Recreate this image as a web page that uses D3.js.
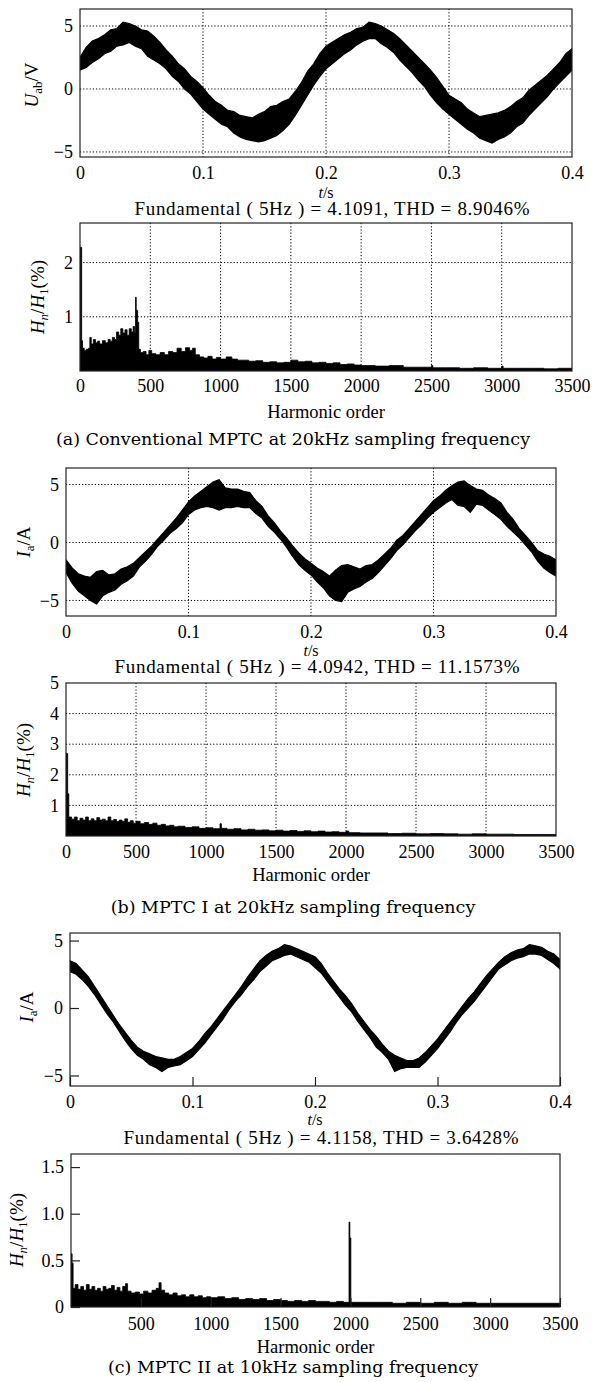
<!DOCTYPE html>
<html>
<head>
<meta charset="utf-8">
<script src="https://cdn.jsdelivr.net/npm/d3@7"></script>
<style>
body { margin: 0; background: #fff; }
svg text { font-family: "Liberation Serif", "Times New Roman", serif; fill: #000; }
.axis line { stroke: #222; stroke-width: 1.2; }
.grid line { stroke: #000; stroke-width: 1; stroke-dasharray: 1.2, 2; }
.frame { fill: none; stroke: #222; stroke-width: 1.2; }
.cap { font-family: "DejaVu Serif", serif; font-size: 17.5px; }
</style>
</head>
<body>
<svg id="fig" width="592" height="1382"></svg>
<script>

// ---- data ----
var waveT = [0, 0.005, 0.01, 0.015, 0.02, 0.025, 0.03, 0.035, 0.04, 0.045,
    0.05, 0.055, 0.06, 0.065, 0.07, 0.075, 0.08, 0.085, 0.09, 0.095,
    0.10, 0.105, 0.11, 0.115, 0.12, 0.125, 0.13, 0.135, 0.14, 0.145,
    0.15, 0.155, 0.16, 0.165, 0.17, 0.175, 0.18, 0.185, 0.19, 0.195,
    0.20, 0.205, 0.21, 0.215, 0.22, 0.225, 0.23, 0.235, 0.24, 0.245,
    0.25, 0.255, 0.26, 0.265, 0.27, 0.275, 0.28, 0.285, 0.29, 0.295,
    0.30, 0.305, 0.31, 0.315, 0.32, 0.325, 0.33, 0.335, 0.34, 0.345,
    0.35, 0.355, 0.36, 0.365, 0.37, 0.375, 0.38, 0.385, 0.39, 0.395, 0.40];

// (a) U_ab band, upper / lower edge
var uabHi = [2.5, 3.3, 3.8, 4.0, 4.3, 4.7, 4.8, 5.3, 5.2, 5.0,
    4.7, 4.6, 4.2, 3.7, 3.1, 2.6, 2.0, 1.6, 1.0, 0.6,
    0.1, -0.5, -1.0, -1.3, -1.7, -1.8, -2.1, -2.2, -2.3, -2.0,
    -1.8, -1.4, -1.3, -1.0, -0.8, -0.2, 0.5, 1.4, 2.0, 2.8,
    3.4, 3.7, 4.0, 4.3, 4.5, 4.8, 4.9, 5.3, 5.2, 5.0,
    4.7, 4.4, 4.0, 3.5, 3.0, 2.5, 2.0, 1.5, 0.9, 0.2,
    -0.5, -0.8, -1.1, -1.6, -1.9, -2.2, -2.1, -2.0, -1.9, -1.7,
    -1.4, -1.0, -0.7, -0.1, 0.3, 0.7, 1.1, 1.6, 2.1, 2.8, 3.2];
var uabLo = [1.5, 1.7, 2.1, 2.4, 2.8, 3.0, 3.4, 3.5, 3.7, 3.4,
    3.2, 2.6, 2.3, 2.0, 1.6, 1.0, 0.6, 0.0, -0.4, -1.0,
    -1.6, -2.0, -2.4, -2.8, -3.0, -3.5, -3.8, -4.0, -4.1, -4.2,
    -4.1, -3.9, -3.7, -3.3, -2.8, -2.1, -1.3, -0.5, 0.3, 1.0,
    1.6, 2.0, 2.4, 2.8, 3.1, 3.5, 3.8, 4.0, 4.0, 3.6,
    3.3, 2.9, 2.3, 1.8, 1.3, 0.7, 0.2, -0.5, -1.1, -1.6,
    -2.0, -2.4, -2.8, -3.2, -3.5, -3.9, -4.1, -4.3, -4.0, -3.8,
    -3.5, -3.0, -2.7, -2.1, -1.6, -1.1, -0.6, 0.0, 0.5, 1.0, 1.5];

// (b) I_a band
var iaBHi = [-1.5, -2.2, -2.7, -2.9, -3.0, -2.5, -2.4, -2.8, -2.7, -2.3,
    -2.1, -1.8, -1.3, -0.8, -0.3, 0.3, 0.9, 1.5, 2.1, 2.8,
    3.5, 4.0, 4.4, 4.8, 5.2, 5.4, 4.7, 4.6, 4.6, 4.4,
    4.3, 3.6, 3.1, 2.3, 1.7, 1.0, 0.4, -0.3, -0.9, -1.4,
    -1.8, -2.2, -2.5, -2.9, -2.4, -2.0, -1.9, -2.1, -2.3, -2.0,
    -1.9, -1.5, -1.0, -0.5, 0.2, 0.6, 1.2, 1.8, 2.4, 3.0,
    3.6, 4.0, 4.5, 4.9, 5.2, 5.3, 4.9, 4.6, 4.5, 4.1,
    3.8, 3.4, 2.6, 2.0, 1.2, 0.6, 0.0, -0.7, -1.0, -1.2, -1.5];
var iaBLo = [-2.6, -3.5, -4.2, -4.6, -5.0, -5.3, -4.6, -4.3, -4.1, -3.6,
    -3.3, -2.9, -2.1, -1.6, -1.0, -0.3, 0.2, 0.8, 1.2, 1.7,
    2.4, 2.8, 3.0, 3.1, 3.0, 2.8, 3.0, 3.0, 3.1, 3.0,
    3.0, 2.5, 2.1, 1.4, 0.9, 0.3, -0.4, -1.2, -1.9, -2.4,
    -2.8, -3.4, -3.9, -4.6, -5.0, -5.1, -4.3, -4.0, -3.8, -3.4,
    -3.1, -2.6, -2.0, -1.4, -0.7, -0.2, 0.4, 1.0, 1.5, 2.1,
    2.6, 3.0, 3.4, 3.7, 3.2, 3.1, 2.6, 3.3, 3.2, 2.8,
    2.4, 2.0, 1.4, 0.9, 0.4, -0.2, -0.8, -1.6, -2.2, -2.6, -2.9];

// (c) I_a band
var iaCHi = [3.5, 3.3, 2.8, 2.3, 1.6, 0.9, 0.2, -0.5, -1.2, -1.8,
    -2.4, -2.9, -3.2, -3.4, -3.6, -3.7, -3.8, -3.8, -3.6, -3.3,
    -3.0, -2.5, -1.9, -1.4, -0.8, -0.2, 0.4, 1.0, 1.6, 2.3,
    2.9, 3.5, 3.9, 4.2, 4.4, 4.7, 4.6, 4.4, 4.2, 4.0,
    3.8, 3.3, 2.6, 2.0, 1.4, 0.9, 0.3, -0.4, -1.0, -1.6,
    -2.1, -2.7, -3.2, -3.5, -3.7, -3.9, -3.9, -3.7, -3.3, -2.8,
    -2.3, -1.7, -1.1, -0.5, 0.1, 0.7, 1.2, 1.8, 2.4, 2.9,
    3.4, 3.8, 4.1, 4.3, 4.4, 4.7, 4.6, 4.5, 4.2, 4.0, 3.6];
var iaCLo = [2.7, 2.5, 2.1, 1.6, 1.0, 0.3, -0.4, -1.0, -1.7, -2.4,
    -3.0, -3.5, -3.8, -4.2, -4.4, -4.7, -4.4, -4.3, -4.2, -3.9,
    -3.6, -3.1, -2.6, -2.0, -1.4, -0.8, -0.1, 0.5, 1.0, 1.6,
    2.1, 2.7, 3.1, 3.5, 3.7, 3.9, 4.0, 3.8, 3.6, 3.4,
    3.0, 2.6, 2.0, 1.4, 0.8, 0.2, -0.3, -1.0, -1.6, -2.2,
    -2.9, -3.3, -3.8, -4.7, -4.5, -4.4, -4.4, -4.4, -4.0, -3.5,
    -3.0, -2.4, -1.8, -1.1, -0.5, 0.0, 0.5, 1.1, 1.7, 2.3,
    2.9, 3.2, 3.5, 3.7, 3.8, 4.0, 4.0, 3.9, 3.6, 3.3, 2.9];

// spectra: [harmonic order, Hn/H1 %]
var specA = [[0, 2.28], [12, 0.56], [18, 0.42], [30, 0.38], [45, 0.4], [60, 0.42], [70, 0.62], [80, 0.5],
    [95, 0.58], [110, 0.52], [125, 0.55], [140, 0.5], [160, 0.56], [180, 0.52], [200, 0.58], [215, 0.55],
    [230, 0.62], [245, 0.58], [260, 0.72], [275, 0.66], [290, 0.78], [305, 0.7], [320, 0.76], [335, 0.66],
    [350, 0.78], [365, 0.72], [378, 0.82], [388, 0.7], [395, 1.36], [400, 1.12], [410, 0.9], [418, 0.4],
    [430, 0.34], [450, 0.36], [470, 0.3], [490, 0.38], [510, 0.32], [540, 0.3], [570, 0.34], [600, 0.3],
    [630, 0.36], [660, 0.34], [690, 0.42], [720, 0.36], [750, 0.43], [780, 0.38], [800, 0.42], [820, 0.3],
    [850, 0.26], [880, 0.24], [910, 0.27], [940, 0.22], [970, 0.25], [1000, 0.22], [1040, 0.26], [1080, 0.22],
    [1120, 0.2], [1160, 0.2], [1200, 0.18], [1250, 0.19], [1300, 0.16], [1350, 0.17], [1400, 0.15], [1450, 0.16],
    [1500, 0.2], [1550, 0.17], [1600, 0.18], [1650, 0.15], [1700, 0.16], [1750, 0.14], [1800, 0.15], [1850, 0.12],
    [1900, 0.13], [1950, 0.11], [2000, 0.1], [2100, 0.09], [2200, 0.1], [2300, 0.07], [2400, 0.07], [2500, 0.1],
    [2510, 0.06], [2600, 0.06], [2700, 0.05], [2800, 0.06], [2900, 0.05], [3000, 0.09], [3010, 0.05], [3100, 0.05],
    [3200, 0.05], [3300, 0.04], [3400, 0.05], [3500, 0.04]];

var specB = [[0, 2.7], [12, 1.38], [20, 0.62], [40, 0.55], [60, 0.62], [80, 0.5], [100, 0.58], [120, 0.52],
    [140, 0.62], [160, 0.5], [180, 0.56], [200, 0.5], [220, 0.6], [240, 0.52], [260, 0.55], [280, 0.5],
    [300, 0.62], [320, 0.5], [340, 0.54], [360, 0.47], [380, 0.52], [400, 0.48], [420, 0.56], [440, 0.45],
    [460, 0.5], [480, 0.42], [500, 0.48], [530, 0.4], [560, 0.44], [590, 0.38], [620, 0.42], [650, 0.35],
    [680, 0.38], [710, 0.33], [740, 0.35], [770, 0.3], [800, 0.32], [850, 0.28], [900, 0.3], [950, 0.25],
    [1000, 0.27], [1050, 0.24], [1100, 0.4], [1110, 0.25], [1150, 0.22], [1200, 0.24], [1250, 0.2], [1300, 0.22],
    [1350, 0.19], [1400, 0.2], [1450, 0.17], [1500, 0.19], [1550, 0.16], [1600, 0.18], [1650, 0.15], [1700, 0.17],
    [1750, 0.14], [1800, 0.16], [1850, 0.13], [1900, 0.14], [1950, 0.12], [2000, 0.16], [2020, 0.11], [2100, 0.1],
    [2200, 0.1], [2300, 0.08], [2400, 0.09], [2500, 0.07], [2600, 0.08], [2700, 0.07], [2800, 0.06], [2900, 0.07],
    [3000, 0.06], [3100, 0.06], [3200, 0.05], [3300, 0.05], [3400, 0.05], [3500, 0.04]];

var specC = [[0, 0.57], [8, 0.47], [15, 0.2], [30, 0.24], [50, 0.19], [70, 0.22], [90, 0.18], [110, 0.24],
    [130, 0.19], [150, 0.22], [170, 0.18], [190, 0.2], [210, 0.17], [230, 0.22], [250, 0.19], [270, 0.2],
    [290, 0.23], [310, 0.18], [330, 0.21], [350, 0.17], [370, 0.22], [390, 0.25], [405, 0.17], [430, 0.15],
    [460, 0.16], [490, 0.14], [520, 0.17], [550, 0.15], [580, 0.18], [610, 0.2], [630, 0.26], [645, 0.18],
    [670, 0.15], [700, 0.13], [730, 0.15], [760, 0.12], [790, 0.13], [820, 0.11], [850, 0.13], [880, 0.11],
    [910, 0.12], [940, 0.1], [970, 0.11], [1000, 0.1], [1050, 0.11], [1100, 0.09], [1150, 0.1], [1200, 0.08],
    [1250, 0.09], [1300, 0.08], [1350, 0.09], [1400, 0.07], [1450, 0.08], [1500, 0.07], [1550, 0.06], [1600, 0.07],
    [1650, 0.06], [1700, 0.07], [1750, 0.06], [1800, 0.06], [1850, 0.05], [1900, 0.06], [1950, 0.05], [1990, 0.91],
    [1996, 0.74], [2003, 0.05], [2100, 0.05], [2200, 0.05], [2300, 0.04], [2400, 0.05], [2500, 0.04], [2600, 0.05],
    [2700, 0.04], [2800, 0.05], [2900, 0.04], [3000, 0.04], [3100, 0.04], [3200, 0.04], [3300, 0.04], [3400, 0.04],
    [3500, 0.04]];

// ticks and texts
var timeTicks = [0, 0.1, 0.2, 0.3, 0.4];
var timeGrid = [0.1, 0.2, 0.3];
var harmTicks = [0, 500, 1000, 1500, 2000, 2500, 3000, 3500];
var harmTicksC = [500, 1000, 1500, 2000, 2500, 3000, 3500];
var harmGrid = [500, 1000, 1500, 2000, 2500, 3000];
var waveYTicks = [-5, 0, 5];
var specAYTicks = [1, 2];
var specBYTicks = [1, 2, 3, 4, 5];
var specCYTicks = [0, 0.5, 1.0, 1.5];

var fundTexts = [
    "Fundamental ( 5Hz ) = 4.1091, THD = 8.9046%",
    "Fundamental ( 5Hz ) = 4.0942, THD = 11.1573%",
    "Fundamental ( 5Hz ) = 4.1158, THD = 3.6428%"];
var captions = [
    "(a) Conventional MPTC at 20kHz sampling frequency",
    "(b) MPTC I at 20kHz sampling frequency",
    "(c) MPTC II at 10kHz sampling frequency"];

var svg = d3.select("#fig");
var FS = 18;
var SERIF = "Liberation Serif, Times New Roman, serif";
var clipId = 0;

function zipWave(hi, lo) {
    return waveT.map(function(t, i) { return {t: t, hi: hi[i], lo: lo[i]}; });
}

// rotated y label built from pieces: {s, i (italic), sub}
function yLabel(x, y, parts) {
    var t = svg.append("text")
        .attr("transform", "translate(" + x + "," + y + ") rotate(-90)")
        .attr("text-anchor", "middle")
        .attr("font-size", 19);
    var shift = 0;
    parts.forEach(function(p) {
        var ts = t.append("tspan").text(p.s);
        if (p.i) ts.attr("font-style", "italic");
        var want = p.sub ? 4 : 0;
        if (want !== shift) { ts.attr("dy", want - shift); shift = want; }
        if (p.sub) ts.attr("font-size", 13);
    });
}

function panel(o) {
    var x = d3.scaleLinear().domain(o.xDom).range([o.l, o.r]);
    var y = d3.scaleLinear().domain(o.yDom).range([o.b, o.t]);
    var g = svg.append("g");

    var id = "clip" + (clipId++);
    svg.append("clipPath").attr("id", id).append("rect")
        .attr("x", o.l).attr("y", o.t).attr("width", o.r - o.l).attr("height", o.b - o.t);

    if (o.gridX) {
        var gg = g.append("g").attr("class", "grid");
        gg.selectAll(".gx").data(o.gridX).enter().append("line")
            .attr("x1", d => x(d)).attr("x2", d => x(d))
            .attr("y1", o.t).attr("y2", o.b);
        gg.selectAll(".gy").data(o.gridY).enter().append("line")
            .attr("y1", d => y(d)).attr("y2", d => y(d))
            .attr("x1", o.l).attr("x2", o.r);
    }

    var plot = g.append("g").attr("clip-path", "url(#" + id + ")");

    if (o.wave) {
        var area = d3.area()
            .x(d => x(d.t))
            .y0(d => y(d.lo))
            .y1(d => y(d.hi))
            .curve(d3.curveLinear);
        plot.append("path")
            .attr("d", area(o.wave))
            .attr("fill", "#000")
            .attr("stroke", "#000")
            .attr("stroke-width", 1.2)
            .attr("stroke-linejoin", "miter");
    }
    if (o.spec) {
        var sArea = d3.area()
            .x(d => x(d[0]))
            .y0(y(0))
            .y1(d => y(d[1]))
            .curve(d3.curveStepAfter);
        plot.append("path")
            .attr("d", sArea(o.spec))
            .attr("fill", "#000")
            .attr("stroke", "#000")
            .attr("stroke-width", 0.8);
    }

    var tick = o.inward ? -9 : 0;
    var xAxis = d3.axisBottom(x)
        .tickValues(o.xTicks)
        .tickSizeInner(tick)
        .tickSizeOuter(0)
        .tickPadding(o.xLabBase - o.b - 0.71 * FS)
        .tickFormat(o.xFmt);
    var gx = g.append("g").attr("class", "axis")
        .attr("transform", "translate(0," + o.b + ")")
        .call(xAxis)
        .attr("font-family", SERIF)
        .attr("font-size", FS);
    gx.select(".domain").remove();

    var yAxis = d3.axisLeft(y)
        .tickValues(o.yTicks)
        .tickSizeInner(tick)
        .tickSizeOuter(0)
        .tickPadding(7)
        .tickFormat(o.yFmt);
    var gy = g.append("g").attr("class", "axis")
        .attr("transform", "translate(" + o.l + ",0)")
        .call(yAxis)
        .attr("font-family", SERIF)
        .attr("font-size", FS);
    gy.select(".domain").remove();

    g.append("rect").attr("class", "frame")
        .attr("x", o.l).attr("y", o.t)
        .attr("width", o.r - o.l).attr("height", o.b - o.t);

    var cx = (o.l + o.r) / 2;
    if (o.kind === "wave") {
        var tl = svg.append("text").attr("x", cx).attr("y", o.xTitleBase)
            .attr("text-anchor", "middle").attr("font-size", 16);
        tl.append("tspan").attr("font-style", "italic").text("t");
        tl.append("tspan").text("/s");
        svg.append("text").attr("x", cx + 6).attr("y", o.fundBase)
            .attr("text-anchor", "middle").attr("font-size", 19)
            .attr("textLength", o.fundLen).attr("lengthAdjust", "spacing")
            .text(o.fund);
    } else {
        svg.append("text").attr("x", cx).attr("y", o.xTitleBase)
            .attr("text-anchor", "middle").attr("font-size", 18.5)
            .text("Harmonic order");
        svg.append("text").attr("class", "cap").attr("x", 293).attr("y", o.capBase)
            .attr("text-anchor", "middle")
            .text(o.cap);
    }
}

var fmtInt = d3.format("d");
var fmtDec = function(d) { return d === 0 ? "0" : d3.format(".1f")(d); };
var hnParts = [{s: "H", i: 1}, {s: "n", i: 1, sub: 1}, {s: "/"}, {s: "H", i: 1}, {s: "1", sub: 1}, {s: "(%)"}];
var uabParts = [{s: "U", i: 1}, {s: "ab", sub: 1}, {s: "/V"}];
var iaParts = [{s: "I", i: 1}, {s: "a", sub: 1}, {s: "/A"}];

// (a) waveform
panel({kind: "wave", l: 80, r: 572, t: 9, b: 157, xDom: [0, 0.4], yDom: [-5.4, 6.35],
    xTicks: timeTicks, yTicks: waveYTicks, xFmt: fmtDec, yFmt: fmtInt,
    gridX: timeGrid, gridY: waveYTicks, wave: zipWave(uabHi, uabLo),
    xLabBase: 179, xTitleBase: 198, fundBase: 215, fundLen: 395, fund: fundTexts[0]});
yLabel(38, 85, uabParts);

// (a) spectrum
panel({kind: "spec", l: 80, r: 572, t: 223, b: 371, xDom: [0, 3500], yDom: [0, 2.73],
    xTicks: harmTicks, yTicks: specAYTicks, xFmt: fmtInt, yFmt: fmtInt,
    gridX: harmGrid, gridY: specAYTicks, spec: specA,
    xLabBase: 392, xTitleBase: 418, capBase: 445, cap: captions[0]});
yLabel(44, 297, hnParts);

// (b) waveform
panel({kind: "wave", l: 66, r: 556, t: 468, b: 616, xDom: [0, 0.4], yDom: [-6.34, 6.42],
    xTicks: timeTicks, yTicks: waveYTicks, xFmt: fmtDec, yFmt: fmtInt,
    gridX: timeGrid, gridY: waveYTicks, wave: zipWave(iaBHi, iaBLo),
    xLabBase: 638, xTitleBase: 656, fundBase: 673, fundLen: 405, fund: fundTexts[1]});
yLabel(30, 542, iaParts);

// (b) spectrum
panel({kind: "spec", l: 66, r: 556, t: 683, b: 836, xDom: [0, 3500], yDom: [0, 5],
    xTicks: harmTicks, yTicks: specBYTicks, xFmt: fmtInt, yFmt: fmtInt,
    gridX: harmGrid, gridY: [1, 2, 3, 4], spec: specB,
    xLabBase: 858, xTitleBase: 881, capBase: 913, cap: captions[1]});
yLabel(30, 760, hnParts);

// (c) waveform
panel({kind: "wave", l: 70, r: 560, t: 933, b: 1086, xDom: [0, 0.4], yDom: [-5.78, 5.56],
    xTicks: timeTicks, yTicks: waveYTicks, xFmt: fmtDec, yFmt: fmtInt, inward: true,
    wave: zipWave(iaCHi, iaCLo),
    xLabBase: 1108, xTitleBase: 1125, fundBase: 1144, fundLen: 395, fund: fundTexts[2]});
yLabel(33, 1007, iaParts);

// (c) spectrum
panel({kind: "spec", l: 71, r: 560, t: 1154, b: 1307, xDom: [0, 3500], yDom: [0, 1.64],
    xTicks: harmTicksC, yTicks: specCYTicks, xFmt: fmtInt, yFmt: fmtDec, inward: true,
    spec: specC,
    xLabBase: 1330, xTitleBase: 1353, capBase: 1373, cap: captions[2]});
yLabel(23, 1230, hnParts);

</script>
</body>
</html>
